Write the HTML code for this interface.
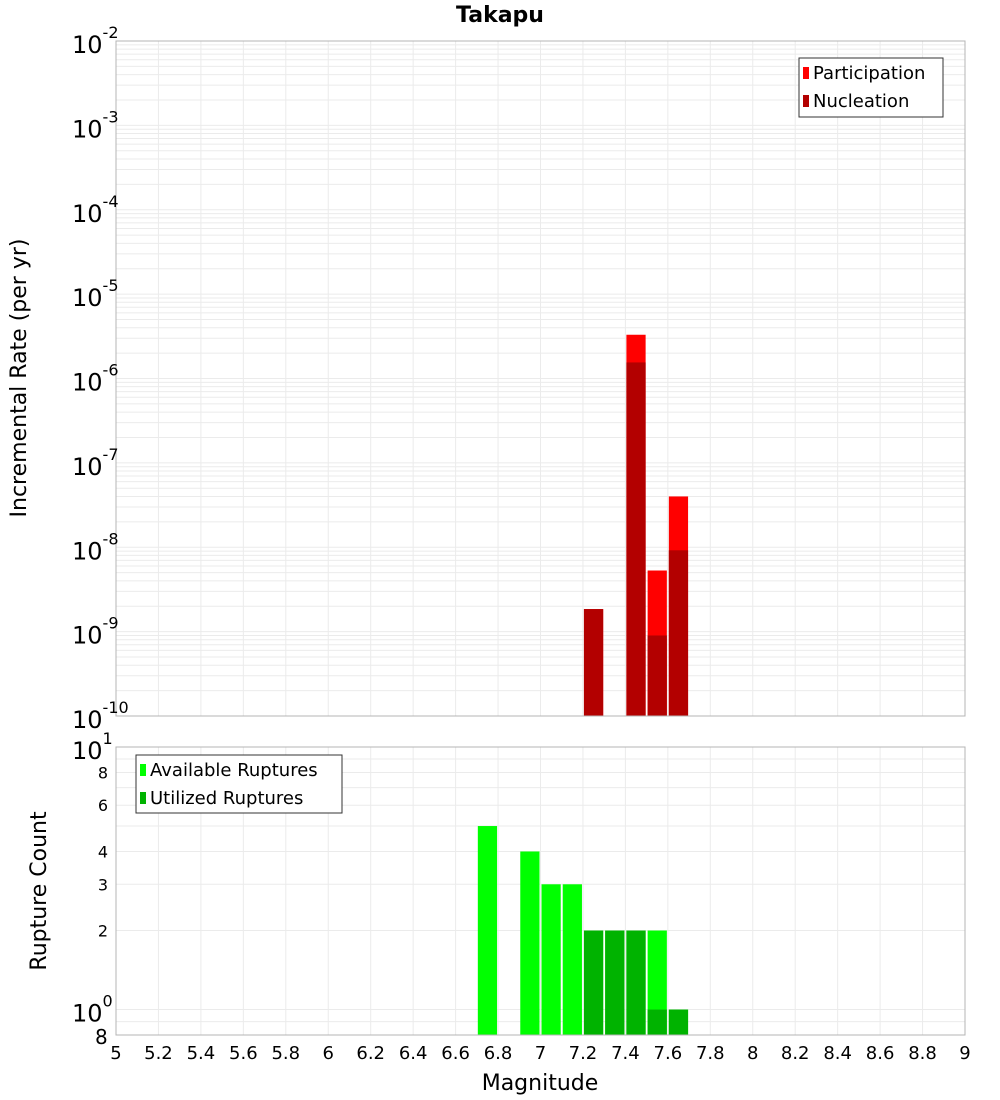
<!DOCTYPE html>
<html><head><meta charset="utf-8"><style>body{margin:0;background:#fff}svg{display:block;font-family:"DejaVu Sans","Liberation Sans",sans-serif}</style></head>
<body>
<svg id="c" width="1000" height="1100" xmlns="http://www.w3.org/2000/svg"></svg>
<script>
const binCenters=[6.75,6.95,7.05,7.15,7.25,7.35,7.45,7.55,7.65];
const participation=[null,null,null,null,1.85e-9,null,3.3e-6,5.3e-9,4.0e-8];
const nucleation=[null,null,null,null,1.85e-9,null,1.55e-6,9.0e-10,9.2e-9];
const available=[5,4,3,3,2,2,2,2,1];
const utilized=[null,null,null,null,2,2,2,1,1];
const xTicks=[5,5.2,5.4,5.6,5.8,6,6.2,6.4,6.6,6.8,7,7.2,7.4,7.6,7.8,8,8.2,8.4,8.6,8.8,9];
const topExps=[-2,-3,-4,-5,-6,-7,-8,-9,-10];
const botTicks=[8,6,4,3,2];

const svg=document.getElementById('c');const NS='http://www.w3.org/2000/svg';
function el(t,a,p){const e=document.createElementNS(NS,t);for(const k in a)e.setAttribute(k,a[k]);(p||svg).appendChild(e);return e;}
const L=116,R=965,T1=41,B1=716,T2=747,B2=1035;
const xs=v=>L+(v-5)/4*(R-L);
const y1=v=>T1+(-2-Math.log10(v))/8*(B1-T1);
const lmin=Math.log10(0.8),lmax=1;
const y2=v=>B2-(Math.log10(v)-lmin)/(lmax-lmin)*(B2-T2);
const bw=0.1*(R-L)/4-2;

// top panel
let g=el('g',{});
el('rect',{x:L,y:T1,width:R-L,height:B1-T1,fill:'#fff'},g);
for(let e=-10;e<-2;e++)for(let m=1;m<10;m++){const y=y1(m*Math.pow(10,e));el('line',{x1:L,x2:R,y1:y,y2:y,stroke:'#ebebeb','stroke-width':1},g);}
for(const t of xTicks){el('line',{x1:xs(t),x2:xs(t),y1:T1,y2:B1,stroke:'#ebebeb'},g);}
binCenters.forEach((c,i)=>{
 if(participation[i]!=null){const r=el('rect',{x:xs(c)-bw/2,y:y1(participation[i]),width:bw,height:B1-y1(participation[i]),fill:'#ff0000'},g);}
 if(nucleation[i]!=null){const r=el('rect',{x:xs(c)-bw/2,y:y1(nucleation[i]),width:bw,height:B1-y1(nucleation[i]),fill:'#b30000'},g);}
});
el('rect',{x:L,y:T1,width:R-L,height:B1-T1,fill:'none',stroke:'#b4b4b4'},g);
topExps.forEach(e=>{const y=y1(Math.pow(10,e));const t=el('text',{x:72,y:y+12,'font-size':24},g);t.textContent='10';const s=el('tspan',{dy:-15,'font-size':16},t);s.textContent=String(e);});
// legend top
let lg=el('g',{});
el('rect',{x:799,y:58,width:144,height:59,fill:'#fff',stroke:'#333'},lg);
el('rect',{x:803,y:67,width:6,height:12,fill:'#ff0000'},lg);
el('rect',{x:803,y:95,width:6,height:12,fill:'#b30000'},lg);
let t=el('text',{x:813,y:79,'font-size':18},lg);t.textContent='Participation';
t=el('text',{x:813,y:107,'font-size':18},lg);t.textContent='Nucleation';

// bottom panel
g=el('g',{});
el('rect',{x:L,y:T2,width:R-L,height:B2-T2,fill:'#fff'},g);
for(const v of [0.8,0.9,1,2,3,4,5,6,7,8,9,10]){const y=y2(v);el('line',{x1:L,x2:R,y1:y,y2:y,stroke:'#ebebeb'},g);}
for(const tk of xTicks){el('line',{x1:xs(tk),x2:xs(tk),y1:T2,y2:B2,stroke:'#ebebeb'},g);}
binCenters.forEach((c,i)=>{
 if(available[i]!=null){const r=el('rect',{x:xs(c)-bw/2,y:y2(available[i]),width:bw,height:B2-y2(available[i]),fill:'#00ff00'},g);}
 if(utilized[i]!=null){const r=el('rect',{x:xs(c)-bw/2,y:y2(utilized[i]),width:bw,height:B2-y2(utilized[i]),fill:'#00b300'},g);}
});
el('rect',{x:L,y:T2,width:R-L,height:B2-T2,fill:'none',stroke:'#b4b4b4'},g);
t=el('text',{x:72,y:y2(10)+12,'font-size':24},g);t.textContent='10';let s=el('tspan',{dy:-15,'font-size':16},t);s.textContent='1';
t=el('text',{x:72,y:y2(1)+12,'font-size':24},g);t.textContent='10';s=el('tspan',{dy:-15,'font-size':16},t);s.textContent='0';
t=el('text',{x:95,y:B2+9,'font-size':20},g);t.textContent='8';
botTicks.forEach(v=>{const tt=el('text',{x:108,y:y2(v)+6,'font-size':16,'text-anchor':'end'},g);tt.textContent=String(v);});
xTicks.forEach(v=>{const tt=el('text',{x:xs(v),y:1059,'font-size':18,'text-anchor':'middle'},g);tt.textContent=String(v);});
lg=el('g',{});
el('rect',{x:136,y:755,width:206,height:58,fill:'#fff',stroke:'#333'},lg);
el('rect',{x:140,y:764,width:6,height:12,fill:'#00ff00'},lg);
el('rect',{x:140,y:792,width:6,height:12,fill:'#00b300'},lg);
t=el('text',{x:150,y:776,'font-size':18},lg);t.textContent='Available Ruptures';
t=el('text',{x:150,y:804,'font-size':18},lg);t.textContent='Utilized Ruptures';

t=el('text',{x:500,y:22,'font-size':22,'font-weight':'bold','text-anchor':'middle'});t.textContent='Takapu';
t=el('text',{x:540,y:1090,'font-size':22,'text-anchor':'middle'});t.textContent='Magnitude';
t=el('text',{x:0,y:0,'font-size':22,'text-anchor':'middle',transform:'translate(26,378) rotate(-90)'});t.textContent='Incremental Rate (per yr)';
t=el('text',{x:0,y:0,'font-size':22,'text-anchor':'middle',transform:'translate(46,891) rotate(-90)'});t.textContent='Rupture Count';
</script>
</body></html>
